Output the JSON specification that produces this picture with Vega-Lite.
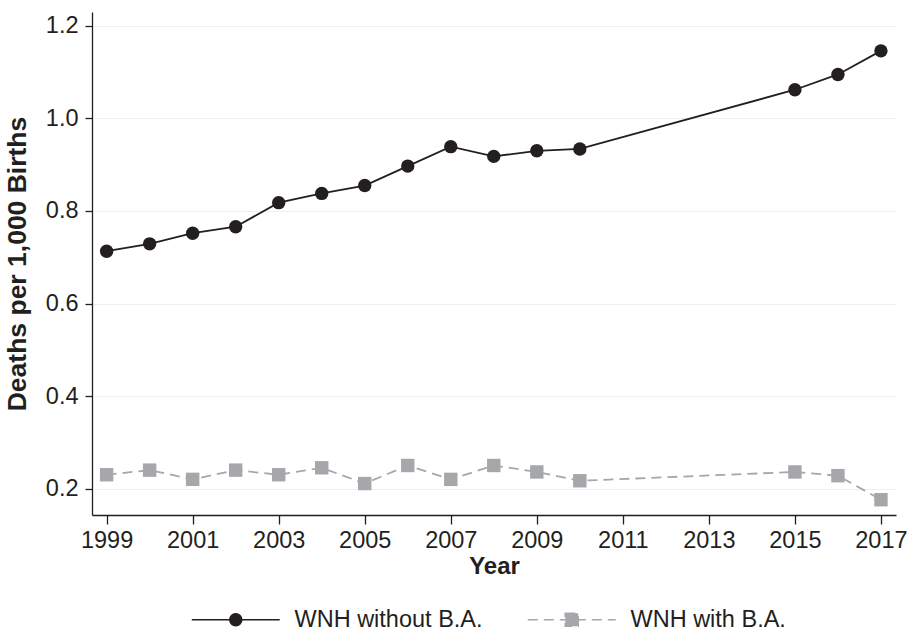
{
  "$schema": "https://vega.github.io/schema/vega-lite/v6.json",
  "width": 804,
  "height": 503,
  "autosize": "none",
  "padding": {"left": 92, "top": 12, "right": 11, "bottom": 116},
  "background": "white",
  "config": {
    "view": {"stroke": null},
    "font": "Liberation Sans",
    "axis": {"labelFont": "Liberation Sans", "titleFont": "Liberation Sans", "labelColor": "#231f20", "titleColor": "#231f20"},
    "legend": {"labelFont": "Liberation Sans", "labelFontSize": 23.5, "labelColor": "#231f20", "labelLimit": 400, "padding": 0, "symbolOpacity": 1}
  },
  "data": {
    "values": [
      {"year": 1999, "series": "WNH without B.A.", "rate": 0.713},
      {"year": 2000, "series": "WNH without B.A.", "rate": 0.729},
      {"year": 2001, "series": "WNH without B.A.", "rate": 0.752},
      {"year": 2002, "series": "WNH without B.A.", "rate": 0.766},
      {"year": 2003, "series": "WNH without B.A.", "rate": 0.818},
      {"year": 2004, "series": "WNH without B.A.", "rate": 0.838},
      {"year": 2005, "series": "WNH without B.A.", "rate": 0.855},
      {"year": 2006, "series": "WNH without B.A.", "rate": 0.897},
      {"year": 2007, "series": "WNH without B.A.", "rate": 0.939},
      {"year": 2008, "series": "WNH without B.A.", "rate": 0.918},
      {"year": 2009, "series": "WNH without B.A.", "rate": 0.930},
      {"year": 2010, "series": "WNH without B.A.", "rate": 0.934},
      {"year": 2015, "series": "WNH without B.A.", "rate": 1.062},
      {"year": 2016, "series": "WNH without B.A.", "rate": 1.095},
      {"year": 2017, "series": "WNH without B.A.", "rate": 1.146},
      {"year": 1999, "series": "WNH with B.A.", "rate": 0.230},
      {"year": 2000, "series": "WNH with B.A.", "rate": 0.240},
      {"year": 2001, "series": "WNH with B.A.", "rate": 0.220},
      {"year": 2002, "series": "WNH with B.A.", "rate": 0.240},
      {"year": 2003, "series": "WNH with B.A.", "rate": 0.230},
      {"year": 2004, "series": "WNH with B.A.", "rate": 0.245},
      {"year": 2005, "series": "WNH with B.A.", "rate": 0.211},
      {"year": 2006, "series": "WNH with B.A.", "rate": 0.250},
      {"year": 2007, "series": "WNH with B.A.", "rate": 0.220},
      {"year": 2008, "series": "WNH with B.A.", "rate": 0.250},
      {"year": 2009, "series": "WNH with B.A.", "rate": 0.236},
      {"year": 2010, "series": "WNH with B.A.", "rate": 0.217},
      {"year": 2015, "series": "WNH with B.A.", "rate": 0.236},
      {"year": 2016, "series": "WNH with B.A.", "rate": 0.228},
      {"year": 2017, "series": "WNH with B.A.", "rate": 0.176}
    ]
  },
  "encoding": {
    "x": {
      "field": "year", "type": "quantitative",
      "scale": {"domain": [1998.66, 2017.35], "nice": false, "zero": false},
      "axis": {
        "title": "Year", "values": [1999, 2001, 2003, 2005, 2007, 2009, 2011, 2013, 2015, 2017],
        "format": "d", "grid": false, "labelFontSize": 23.5, "titleFontSize": 24, "titleFontWeight": "bold",
        "tickSize": 9, "tickColor": "#231f20", "domainColor": "#231f20", "domainWidth": 1.3, "tickWidth": 1.3,
        "labelPadding": 4, "titlePadding": 3, "labelFlush": false
      }
    },
    "y": {
      "field": "rate", "type": "quantitative",
      "scale": {"domain": [0.143, 1.23], "nice": false, "zero": false},
      "axis": {
        "title": "Deaths per 1,000 Births", "values": [0.2, 0.4, 0.6, 0.8, 1.0, 1.2],
        "format": ".1f", "grid": true, "gridColor": "#efefef", "gridWidth": 1.2,
        "labelFontSize": 23.5, "titleFontSize": 26.5, "titleFontWeight": "bold",
        "tickSize": 7, "tickColor": "#231f20", "domainColor": "#231f20", "domainWidth": 1.3, "tickWidth": 1.3,
        "labelPadding": 7, "titlePadding": 14
      }
    }
  },
  "layer": [
    {
      "transform": [{"filter": {"field": "series", "equal": "WNH without B.A."}}],
      "encoding": {
        "color": {
          "field": "series", "type": "nominal",
          "scale": {"domain": ["WNH without B.A."], "range": ["#231f20"]},
          "legend": {
            "title": null, "orient": "none", "direction": "horizontal",
            "legendX": 100, "legendY": 596,
            "symbolType": "M-7.33,0L7.33,0M1,0A1,1,0,1,1,-1,0A1,1,0,1,1,1,0Z",
            "symbolSize": 144, "symbolStrokeWidth": 1.6, "symbolOffset": 32, "labelOffset": 47,
            "symbolFillColor": "#231f20", "symbolStrokeColor": "#231f20"
          }
        }
      },
      "layer": [
        {"mark": {"type": "line", "strokeWidth": 1.8}},
        {"mark": {"type": "point", "filled": true, "opacity": 1, "size": 180, "shape": "circle"}}
      ]
    },
    {
      "transform": [{"filter": {"field": "series", "equal": "WNH with B.A."}}],
      "encoding": {
        "color": {
          "field": "series", "type": "nominal",
          "scale": {"domain": ["WNH with B.A."], "range": ["#a6a7aa"]},
          "legend": {
            "title": null, "orient": "none", "direction": "horizontal",
            "legendX": 436, "legendY": 596,
            "symbolType": "M-7.33,0L7.33,0M-1.08,-1.08L1.08,-1.08L1.08,1.08L-1.08,1.08Z",
            "symbolSize": 144, "symbolStrokeWidth": 1.6, "symbolOffset": 32, "labelOffset": 47,
            "symbolDash": [10, 6], "symbolFillColor": "#a6a7aa", "symbolStrokeColor": "#a6a7aa"
          }
        }
      },
      "layer": [
        {"mark": {"type": "line", "strokeWidth": 1.8, "strokeDash": [10, 6]}},
        {"mark": {"type": "point", "filled": true, "opacity": 1, "size": 180, "shape": "square"}}
      ]
    }
  ],
  "resolve": {"scale": {"color": "independent"}, "legend": {"color": "independent"}}
}
